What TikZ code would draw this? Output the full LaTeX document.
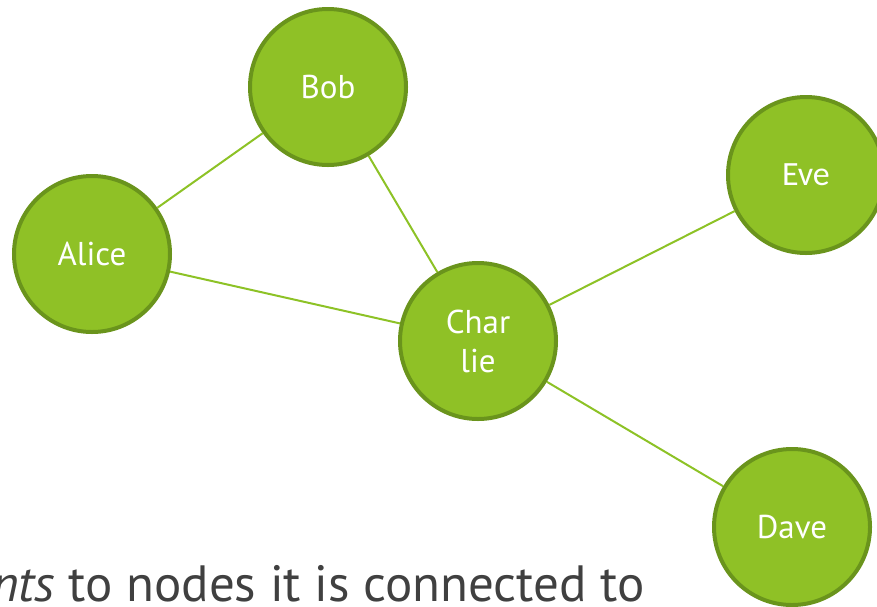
\documentclass[tikz,border=0pt]{standalone}
\usepackage{fontspec}
\setmainfont{PT Sans}
\newfontfamily\evefont{Carlito}
\definecolor{nodefill}{RGB}{143,193,38}
\definecolor{nodeline}{RGB}{106,148,28}
\definecolor{edgecol}{RGB}{141,194,38}
\definecolor{textgray}{RGB}{64,64,64}
\begin{document}
\begin{tikzpicture}[x=1pt,y=-1pt,
  person/.style={circle, fill=nodefill, draw=nodeline, line width=4pt,
    minimum size=156pt, inner sep=0pt, text=white, font=\fontsize{33}{39}\selectfont,
    align=center},
  link/.style={draw=edgecol, line width=2pt}]
\useasboundingbox (0,0) rectangle (877,606);
% the five people
\node[person] (bob) at (328,87) {Bob};
\node[person] (alice) at (92,254) {Alice};
\node[person] (charlie) at (478,341) {Char\\lie};
\node[person, font=\evefont\fontsize{34}{40}\selectfont] (eve) at (806,175) {Eve};
\node[person] (dave) at (792,527) {Dave};
% who is connected to whom
\path[link] (alice) -- (bob);
\path[link] (alice) -- (charlie);
\path[link] (bob) -- (charlie);
\path[link] (charlie) -- (eve);
\path[link] (charlie) -- (dave);
% caption line running off the page edge
\node[anchor=base west, inner sep=0pt, text=textgray, font=\fontsize{51}{60}\selectfont]
  (caption) at (-8,601) {\textit{nts} to nodes it is connected to};
\end{tikzpicture}
\end{document}
